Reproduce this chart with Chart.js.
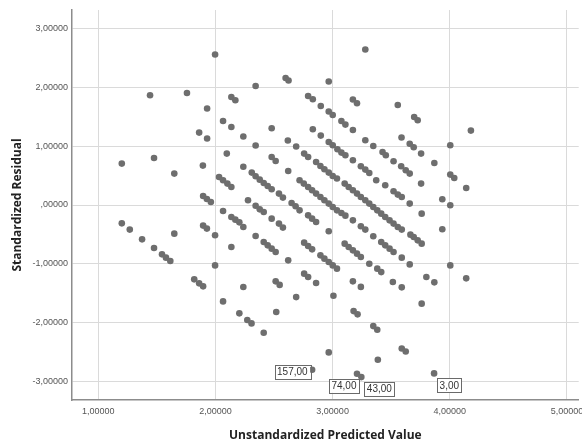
<!DOCTYPE html>
<html>
<head>
<meta charset="utf-8">
<script src="https://cdn.jsdelivr.net/npm/chart.js@4/dist/chart.umd.min.js"></script>
<style>
  html, body { margin: 0; padding: 0; background: #fff; overflow: hidden; }
  #wrap { width: 582px; height: 446px; }
</style>
</head>
<body>
<div id="wrap"><canvas id="myChart" width="582" height="446"></canvas></div>
<script>
// unstandardized predicted value (x) and standardized residual (y)
const predicted = [
  1.442, 1.757, 1.997, 2.136, 2.170, 1.929, 2.065, 2.136, 1.861, 1.929,
  2.238, 2.343, 2.343, 2.480, 2.599, 2.624, 2.618, 2.689, 2.791, 2.831,
  2.899, 2.967, 2.967, 3.001, 2.831, 2.899, 2.967, 3.001, 3.041, 3.075,
  3.109, 3.075, 3.109, 3.173, 3.173, 3.208, 3.279, 3.279, 3.347, 3.556,
  3.588, 3.658, 3.692, 3.696, 3.726, 4.180, 4.004, 1.201, 1.476, 1.649,
  1.893, 2.097, 2.238, 2.031, 2.065, 2.102, 2.136, 1.895, 1.927, 1.961,
  2.278, 2.343, 2.065, 2.136, 2.170, 2.204, 2.238, 2.343, 1.201, 1.269,
  1.374, 1.476, 1.544, 1.578, 1.615, 1.649, 1.895, 1.927, 1.997, 2.136,
  1.997, 1.819, 1.861, 1.895, 2.238, 3.755, 3.868, 2.480, 2.514, 2.757,
  2.791, 2.859, 2.896, 2.930, 2.967, 3.001, 3.037, 3.173, 3.241, 3.279,
  3.313, 3.426, 3.454, 3.520, 3.585, 3.624, 3.658, 2.621, 2.310, 2.343,
  2.378, 2.412, 2.446, 2.480, 2.718, 2.754, 2.791, 2.825, 2.859, 2.896,
  2.930, 2.967, 3.001, 3.037, 3.075, 3.109, 3.103, 3.137, 3.173, 3.208,
  3.241, 3.279, 3.313, 3.347, 3.381, 3.415, 3.449, 3.486, 3.520, 3.556,
  3.590, 3.372, 3.449, 3.520, 3.556, 3.590, 3.658, 3.755, 3.760, 2.542,
  2.576, 2.650, 2.684, 2.718, 2.791, 2.825, 2.859, 2.378, 2.412, 2.480,
  2.542, 2.576, 2.967, 3.173, 3.241, 3.279, 3.347, 3.415, 3.449, 3.486,
  3.520, 3.590, 3.658, 3.664, 3.692, 3.726, 3.760, 2.412, 2.446, 2.480,
  2.514, 2.621, 2.757, 2.791, 2.825, 2.896, 2.930, 2.967, 3.001, 3.037,
  3.103, 3.137, 3.173, 3.208, 3.241, 3.313, 3.381, 3.415, 3.514, 3.590,
  3.800, 3.868, 2.514, 2.548, 2.757, 2.791, 2.859, 3.173, 3.241, 4.004,
  4.038, 4.140, 3.936, 4.004, 3.936, 4.004, 4.140, 2.065, 2.204, 2.272,
  2.308, 2.689, 3.007, 3.760, 2.519, 3.179, 3.213, 2.412, 3.347, 3.381,
  2.967, 3.590, 3.624, 3.386, 2.825, 3.208, 3.245, 3.866
];
const residual = [
  1.869, 1.908, 2.562, 1.840, 1.783, 1.642, 1.431, 1.329, 1.233, 1.131,
  1.165, 2.027, 1.012, 1.306, 2.163, 2.119, 1.097, 0.995, 1.857, 1.800,
  1.686, 2.102, 1.591, 1.533, 1.289, 1.182, 1.073, 1.017, 0.949, 0.892,
  0.846, 1.431, 1.369, 1.277, 1.795, 1.732, 2.647, 1.102, 1.005, 1.703,
  1.148, 1.042, 0.983, 1.499, 1.443, 1.267, 1.017, 0.705, 0.800, 0.535,
  0.671, 0.875, 0.650, 0.477, 0.421, 0.364, 0.306, 0.153, 0.102, 0.051,
  0.080, -0.014, -0.102, -0.205, -0.249, -0.295, -0.375, -0.528, -0.312, -0.419,
  -0.585, -0.733, -0.840, -0.896, -0.954, -0.488, -0.351, -0.402, -0.516, -0.716,
  -1.028, -1.266, -1.334, -1.385, -1.397, 0.875, 0.715, 0.818, 0.749, 0.875,
  0.818, 0.732, 0.664, 0.608, 0.552, 0.494, 0.450, 0.761, 0.659, 0.603,
  0.545, 0.903, 0.846, 0.744, 0.659, 0.591, 0.535, 0.579, 0.552, 0.489,
  0.432, 0.375, 0.323, 0.267, 0.421, 0.364, 0.306, 0.250, 0.194, 0.136,
  0.080, 0.024, -0.034, -0.091, -0.137, -0.181, 0.364, 0.306, 0.250, 0.194,
  0.136, 0.080, 0.024, -0.034, -0.091, -0.147, -0.205, -0.261, -0.317, -0.375,
  -0.419, 0.421, 0.335, 0.233, 0.177, 0.136, 0.024, 0.364, -0.147, 0.194,
  0.126, 0.034, -0.022, -0.091, -0.176, -0.232, -0.290, -0.074, -0.120, -0.232,
  -0.317, -0.385, -0.448, -0.261, -0.363, -0.419, -0.533, -0.631, -0.687, -0.743,
  -0.801, -0.896, -1.011, -0.505, -0.545, -0.602, -0.658, -0.631, -0.687, -0.743,
  -0.801, -0.942, -0.641, -0.699, -0.755, -0.857, -0.913, -0.971, -1.028, -1.084,
  -0.658, -0.716, -0.772, -0.828, -0.886, -0.999, -1.084, -1.142, -1.312, -1.402,
  -1.227, -1.317, -1.300, -1.360, -1.169, -1.227, -1.329, -1.300, -1.394, 0.518,
  0.460, 0.289, 0.097, -0.005, -0.414, -1.028, -1.249, -1.641, -1.845, -1.959,
  -2.016, -1.568, -1.544, -1.680, -1.823, -1.806, -1.862, -2.174, -2.062, -2.123,
  -2.510, -2.442, -2.493, -2.634, -2.804, -2.873, -2.930, -2.867
];
// labelled cases: index into the arrays above and the case number shown
const labelIndex = [234, 235, 236, 237];
const labelCase = [157, 74, 43, 3];
// label box offsets from the point (pixels)
const labelOffset = [[-32, -5], [-28, 5], [3, 5], [3, 5]];

const xTicks = [1, 2, 3, 4, 5];
const yTicks = [-3, -2, -1, 0, 1, 2, 3];

const points = predicted.map((x, i) => ({ x: x, y: residual[i] }));

function spssNum(v, digits) {
  let s = Math.abs(v).toFixed(digits).replace('.', ',');
  if (Math.abs(v) < 1) s = s.replace(/^0/, '');
  return (v < 0 ? '-' : '') + s;
}

const caseLabels = {
  id: 'caseLabels',
  afterDatasetsDraw(chart) {
    const ctx = chart.ctx;
    const meta = chart.getDatasetMeta(0);
    ctx.save();
    ctx.font = '10px "Liberation Sans", Arial, sans-serif';
    ctx.textBaseline = 'middle';
    labelIndex.forEach((idx, k) => {
      const pt = meta.data[idx];
      const txt = spssNum(labelCase[k], 2);
      const w = ctx.measureText(txt).width + 5;
      const h = 14;
      const bx = labelOffset[k][0] < 0 ? pt.x + labelOffset[k][0] - (w - 30) : pt.x + labelOffset[k][0];
      const by = pt.y + labelOffset[k][1];
      ctx.fillStyle = '#fff';
      ctx.fillRect(bx, by, w, h);
      ctx.strokeStyle = '#6a6a6a';
      ctx.lineWidth = 1;
      ctx.strokeRect(Math.round(bx) + 0.5, Math.round(by) + 0.5, Math.round(w), h);
      ctx.fillStyle = '#333';
      ctx.fillText(txt, bx + 2.5, by + h / 2 + 0.5);
    });
    ctx.restore();
  }
};

const ctx = document.getElementById('myChart').getContext('2d');
const myChart = new Chart(ctx, {
  type: 'scatter',
  data: {
    datasets: [{
      data: points,
      backgroundColor: '#6e6e6e',
      borderWidth: 0,
      pointRadius: 3.3,
      pointHoverRadius: 3.3
    }]
  },
  options: {
    responsive: false,
    animation: false,
    events: [],
    layout: { padding: { top: 10, right: 0, left: 0, bottom: 0 } },
    plugins: {
      legend: { display: false },
      tooltip: { enabled: false }
    },
    scales: {
      x: {
        type: 'linear',
        min: 0.776,
        max: 5.1,
        afterBuildTicks: s => { s.ticks = xTicks.map(v => ({ value: v })); },
        afterFit: s => { s.height = 46; s.paddingLeft = 0; s.paddingRight = 0; },
        grid: { color: '#dadada', lineWidth: 1, drawTicks: false },
        border: { color: '#8c8c8c', width: 1.5 },
        ticks: {
          padding: 6,
          color: '#555',
          font: { family: '"Liberation Sans", Arial, sans-serif', size: 9 },
          callback: v => spssNum(v, 5)
        },
        title: {
          display: true,
          text: 'Unstandardized Predicted Value',
          color: '#222',
          font: { family: '"Open Sans", "Liberation Sans", sans-serif', size: 12, weight: 'bold' },
          padding: { top: 0, bottom: 3 }
        }
      },
      y: {
        type: 'linear',
        min: -3.32,
        max: 3.32,
        afterBuildTicks: s => { s.ticks = yTicks.map(v => ({ value: v })); },
        afterFit: s => { s.width = 72; s.paddingTop = 0; s.paddingBottom = 0; },
        grid: { color: '#dadada', lineWidth: 1, drawTicks: false },
        border: { color: '#8c8c8c', width: 1.5 },
        ticks: {
          padding: 4,
          color: '#555',
          font: { family: '"Liberation Sans", Arial, sans-serif', size: 9 },
          callback: v => spssNum(v, 5)
        },
        title: {
          display: true,
          text: 'Standardized Residual',
          color: '#222',
          font: { family: '"Open Sans", "Liberation Sans", sans-serif', size: 12, weight: 'bold' },
          padding: { top: 10, bottom: 0 }
        }
      }
    }
  },
  plugins: [caseLabels]
});
</script>
</body>
</html>
